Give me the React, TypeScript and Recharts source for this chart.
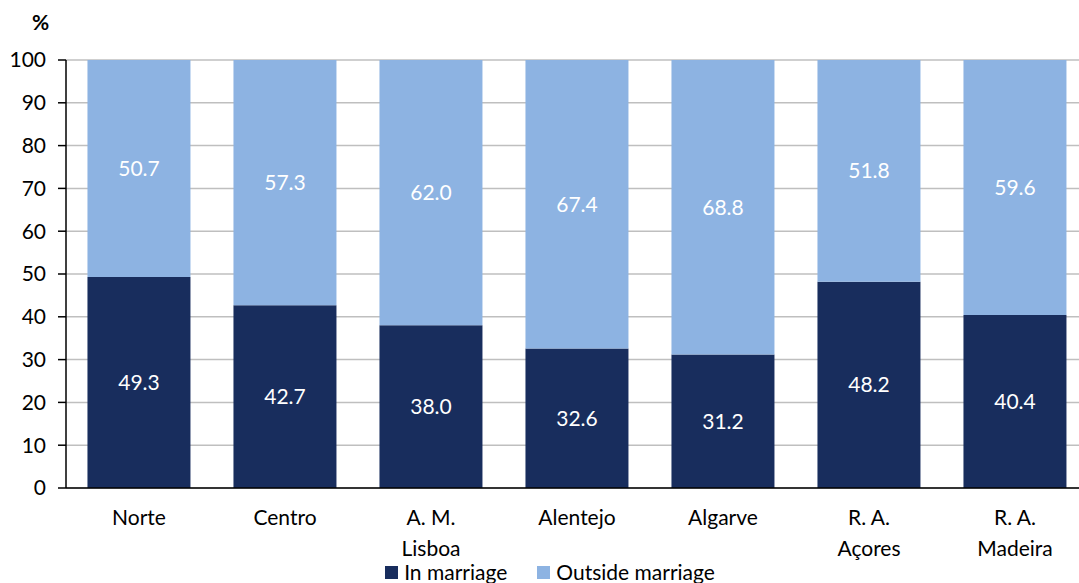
import { BarChart, Bar, XAxis, YAxis, CartesianGrid, LabelList, Legend } from 'recharts'

const regions = ['Norte', 'Centro', 'A. M.\nLisboa', 'Alentejo', 'Algarve', 'R. A.\nAçores', 'R. A.\nMadeira']
const inMarriage = [49.3, 42.7, 38.0, 32.6, 31.2, 48.2, 40.4]
const outsideMarriage = [50.7, 57.3, 62.0, 67.4, 68.8, 51.8, 59.6]
const yTicks = [0, 10, 20, 30, 40, 50, 60, 70, 80, 90, 100]

const DARK = '#182d5d'
const LIGHT = '#8db3e2'
const FONT = 'Lato, "Open Sans", sans-serif'
const FS = 21

const data = regions.map((region, i) => ({
  region,
  inMarriage: inMarriage[i],
  outside: outsideMarriage[i],
}))

function RegionTick({ x, y, payload }: any) {
  const lines = String(payload.value).split('\n')
  return (
    <text x={x} y={y + 29} textAnchor="middle" fill="#000" fontSize={FS} fontFamily={FONT}>
      {lines.map((line, i) => (
        <tspan key={i} x={x} dy={i === 0 ? 0 : 31}>
          {line}
        </tspan>
      ))}
    </text>
  )
}

function LegendContent() {
  const items = [
    { label: 'In marriage', color: DARK },
    { label: 'Outside marriage', color: LIGHT },
  ]
  return (
    <div style={{ display: 'flex', justifyContent: 'center', gap: 30, fontFamily: FONT, fontSize: FS, lineHeight: '20px' }}>
      {items.map((it) => (
        <div key={it.label} style={{ display: 'flex', alignItems: 'center' }}>
          <span style={{ width: 13, height: 13, background: it.color, display: 'inline-block', marginRight: 6 }} />
          <span>{it.label}</span>
        </div>
      ))}
    </div>
  )
}

export default function App() {
  return (
    <div style={{ position: 'absolute', left: 0, top: 0, width: 1079, height: 583, overflow: 'hidden', background: '#fff' }}>
      <div style={{ position: 'absolute', left: 32, top: 9, fontFamily: FONT, fontWeight: 700, fontSize: FS }}>%</div>
      <BarChart
        width={1100}
        height={583}
        data={data}
        margin={{ top: 60, right: 12, bottom: 0, left: 0 }}
        barCategoryGap="14.7%"
      >
        <CartesianGrid vertical={false} stroke="#bfbfbf" strokeWidth={1.5} />
        <XAxis
          dataKey="region"
          tick={<RegionTick />}
          tickLine={false}
          axisLine={{ stroke: '#000', strokeWidth: 1.5 }}
          interval={0}
          height={75}
        />
        <YAxis
          domain={[0, 100]}
          ticks={yTicks}
          width={66}
          tick={{ fill: '#000', fontSize: FS, fontFamily: FONT }}
          tickLine={{ stroke: '#000', strokeWidth: 1.5 }}
          tickSize={8}
          tickMargin={12}
          axisLine={{ stroke: '#000', strokeWidth: 1.5 }}
          interval={0}
        />
        <Legend
          verticalAlign="bottom"
          height={20}
          content={<LegendContent />}
          wrapperStyle={{ top: 562, left: 0, width: 1100 }}
        />
        <Bar dataKey="inMarriage" stackId="a" fill={DARK} isAnimationActive={false}>
          <LabelList
            dataKey="inMarriage"
            position="center"
            fill="#fff"
            fontSize={FS}
            fontFamily={FONT}
            formatter={(v: any) => Number(v).toFixed(1)}
          />
        </Bar>
        <Bar dataKey="outside" stackId="a" fill={LIGHT} isAnimationActive={false}>
          <LabelList
            dataKey="outside"
            position="center"
            fill="#fff"
            fontSize={FS}
            fontFamily={FONT}
            formatter={(v: any) => Number(v).toFixed(1)}
          />
        </Bar>
      </BarChart>
    </div>
  )
}
